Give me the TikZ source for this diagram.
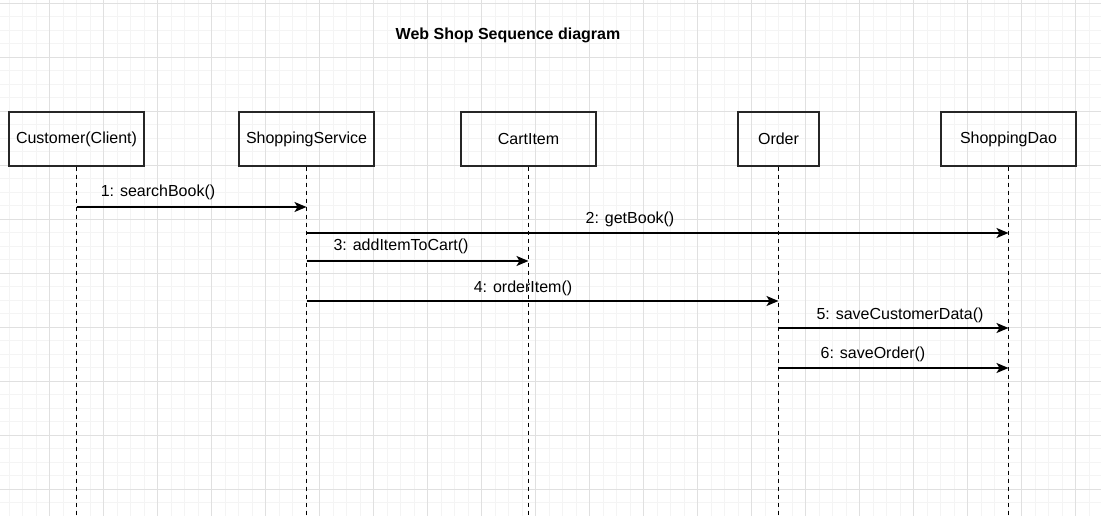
\documentclass[tikz,border=0pt]{standalone}
\usepackage{fontspec}
\setmainfont{Liberation Sans}
\usepackage{tikz}
\usetikzlibrary{arrows.meta,positioning}
\definecolor{gridmajor}{RGB}{224,224,224}
\definecolor{gridminor}{RGB}{244,244,244}

\begin{document}
\begin{tikzpicture}[x=1pt,y=-1pt]
                \tikzstyle{object}=[rectangle, draw = black!85, line width=1.4pt, minimum width=135pt, minimum height=54pt, inner sep=0pt, font=\fontsize{16}{19}\selectfont]
                \tikzstyle{lifeline}=[line width=1.5pt, dash pattern=on 4pt off 4pt]
                \tikzstyle{connect}=[line width=1.5pt, -{Stealth[length=12pt,width=10pt,inset=3pt]}]
                \tikzstyle{msg}=[inner sep=0pt, font=\fontsize{16}{19}\selectfont]
                \useasboundingbox (0,0) rectangle (1101,516);
                \fill[white] (0,0) rectangle (1101,516);
                % grid
                \foreach \gx in {9,22.5,...,1101} \draw[gridminor, line width=0.9pt] (\gx,0) -- (\gx,516);
                \foreach \gy in {3.3,16.8,...,516} \draw[gridminor, line width=0.9pt] (0,\gy) -- (1101,\gy);
                \foreach \gx in {49.5,103.5,...,1101} \draw[gridmajor, line width=0.9pt] (\gx,0) -- (\gx,516);
                \foreach \gy in {3.3,57.3,...,516} \draw[gridmajor, line width=0.9pt] (0,\gy) -- (1101,\gy);
                \node[font=\fontsize{16}{19}\selectfont\bfseries] (title) at (508,35){Web Shop Sequence diagram};
                \node[object] (cust) at (76.5,139){Customer(Client)};
                \node[object] (shop) at (306.5,139){ShoppingService};
                \node[object] (cart) at (528.5,139){CartItem};
                \node[object, minimum width=81pt] (order) at (778.5,139){Order};
                \node[object] (dao) at (1008.5,139){ShoppingDao};
                \coordinate (custend) at (76.5,516);
                \coordinate (shopend) at (306.5,516);
                \coordinate (cartend) at (528.5,516);
                \coordinate (orderend) at (778.5,516);
                \coordinate (daoend) at (1008.5,516);
                \path (cust) edge [lifeline] (custend);
                \path (shop) edge [lifeline] (shopend);
                \path (cart) edge [lifeline] (cartend);
                \path (order) edge [lifeline] (orderend);
                \path (dao) edge [lifeline] (daoend);
                % messages
                \coordinate (m1a) at (76.5,207);  \coordinate (m1b) at (306.5,207);
                \coordinate (m2a) at (306.5,233); \coordinate (m2b) at (1008.5,233);
                \coordinate (m3a) at (306.5,261); \coordinate (m3b) at (528.5,261);
                \coordinate (m4a) at (306.5,301); \coordinate (m4b) at (778.5,301);
                \coordinate (m5a) at (778.5,328); \coordinate (m5b) at (1008.5,328);
                \coordinate (m6a) at (778.5,368); \coordinate (m6b) at (1008.5,368);
                \path (m1a) edge [connect] (m1b);
                \path (m2a) edge [connect] (m2b);
                \path (m3a) edge [connect] (m3b);
                \path (m4a) edge [connect] (m4b);
                \path (m5a) edge [connect] (m5b);
                \path (m6a) edge [connect] (m6b);
                \node[msg] (l1) at (158,192){1: searchBook()};
                \node[msg] (l2) at (630,219){2: getBook()};
                \node[msg] (l3) at (401,246){3: addItemToCart()};
                \node[msg] (l4) at (523,288){4: orderItem()};
                \node[msg] (l5) at (900,315){5: saveCustomerData()};
                \node[msg] (l6) at (873,354){6: saveOrder()};
    \end{tikzpicture}
\end{document}
